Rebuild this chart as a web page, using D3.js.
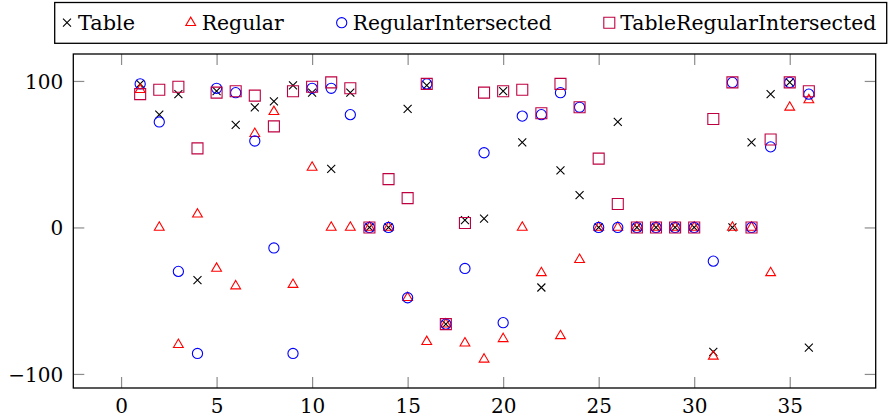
<!DOCTYPE html>
<html>
<head>
<meta charset="utf-8">
<script src="https://cdn.jsdelivr.net/npm/d3@7"></script>
<style>
  body { margin: 0; background: #fff; }
</style>
</head>
<body>
<svg id="svg"></svg>
<script>
// data
const xs = d3.range(1, 37);
const tableVals = [98, 77, 91, -36, 93, 70, 82, 86, 97, 92, 40, 92, 0, 0, 81, 97, -66, 5, 6, 93,
  58, -41, 39, 22, 0, 72, 0, 0, 0, 0, -85, 0, 58, 91, 99, -82];
const regularVals = [94, 0, -80, 9, -28, -40, 64, 79, -39, 41, 0, 0, 0, 0, -48, -78, -66, -79, -90, -76,
  0, -31, -74, -22, 0, 0, 0, 0, 0, 0, -88, 0, 0, -31, 82, 87];
const regIntVals = [98, 72, -30, -86, 95, 92, 59, -14, -86, 95, 95, 77, 0, 0, -48, 98, -66, -28, 51, -65,
  76, 77, 92, 82, 0, 0, 0, 0, 0, 0, -23, 99, 0, 55, 99, 91];
const tableRegIntVals = [91, 94, 96, 54, 92, 93, 90, 69, 93, 96, 99, 95, 0, 33, 20, 98, -66, 3, 92, 93,
  94, 78, 98, 82, 47, 16, 0, 0, 0, 0, 74, 99, 0, 60, 99, 93];
const seriesNames = ["Table", "Regular", "RegularIntersected", "TableRegularIntersected"];
const xTicks = [0, 5, 10, 15, 20, 25, 30, 35];
const yTicks = [-100, 0, 100];

const width = 888, height = 420;
const plot = { left: 73.3, right: 875.7, top: 54, bottom: 388 };
const fontFamily = "'DejaVu Serif', serif";

const svg = d3.select("#svg").attr("width", width).attr("height", height);

const xScale = d3.scaleLinear().domain([-2.5, 39.5]).range([plot.left, plot.right]);
const yScale = d3.scaleLinear().domain([-109.6, 118.4]).range([plot.bottom, plot.top]);

// marker shapes
const markers = {
  Table: { color: "#000", path: "M-4,-4L4,4M-4,4L4,-4" },
  Regular: { color: "#ff0000", path: "M0,-5.6L4.9,2.8L-4.9,2.8Z" },
  RegularIntersected: { color: "#0000ff", path: d3.arc()({ innerRadius: 0, outerRadius: 5.1, startAngle: 0, endAngle: 2 * Math.PI }) },
  TableRegularIntersected: { color: "#bf0040", path: "M-5.5,-5.5H5.5V5.5H-5.5Z" }
};

const seriesData = [tableVals, regularVals, regIntVals, tableRegIntVals];

// AXES
const tickColor = "#8c8c8c";
function styleAxis(g) {
  g.attr("font-family", fontFamily).attr("font-size", 20);
  g.select(".domain").remove();
  g.selectAll(".tick line").attr("stroke", tickColor).attr("stroke-width", 1.2);
  g.selectAll("text").attr("fill", "#000");
}

svg.append("g")
  .attr("transform", `translate(0, ${plot.bottom})`)
  .call(d3.axisBottom(xScale).tickValues(xTicks).tickSizeInner(-11).tickSizeOuter(0))
  .call(styleAxis)
  .selectAll("text").attr("dy", null).attr("y", 25);

svg.append("g")
  .attr("transform", `translate(0, ${plot.top})`)
  .call(d3.axisTop(xScale).tickValues(xTicks).tickSizeInner(-11).tickSizeOuter(0).tickFormat(""))
  .call(styleAxis);

svg.append("g")
  .attr("transform", `translate(${plot.left}, 0)`)
  .call(d3.axisLeft(yScale).tickValues(yTicks).tickSizeInner(-11).tickSizeOuter(0)
    .tickFormat(d => d < 0 ? "\u2212" + Math.abs(d) : d))
  .call(styleAxis)
  .selectAll("text").attr("x", -10).attr("dy", "0.36em");

svg.append("g")
  .attr("transform", `translate(${plot.right}, 0)`)
  .call(d3.axisRight(yScale).tickValues(yTicks).tickSizeInner(-11).tickSizeOuter(0).tickFormat(""))
  .call(styleAxis);

// frame
svg.append("rect")
  .attr("x", plot.left).attr("y", plot.top)
  .attr("width", plot.right - plot.left).attr("height", plot.bottom - plot.top)
  .attr("fill", "none").attr("stroke", "#000").attr("stroke-width", 1.3);

// MARKS
seriesNames.forEach((name, i) => {
  svg.append("g")
    .selectAll("path")
    .data(xs.map((x, j) => ({ x: x, y: seriesData[i][j] })))
    .enter()
    .append("path")
    .attr("transform", d => `translate(${xScale(d.x)}, ${yScale(d.y)})`)
    .attr("d", markers[name].path)
    .attr("fill", "none")
    .attr("stroke", markers[name].color)
    .attr("stroke-width", 1.1);
});

// LEGEND
const legend = svg.append("g").attr("font-family", fontFamily).attr("font-size", 21);
legend.append("rect")
  .attr("x", 54.7).attr("y", 2.5).attr("width", 832).attr("height", 40.8)
  .attr("fill", "#fff").attr("stroke", "#000").attr("stroke-width", 1.3);

const legendX = [67, 190.7, 341.7, 609.3];
const legendTextWidth = [57, 82, 199, 256];
seriesNames.forEach((name, i) => {
  legend.append("path")
    .attr("transform", `translate(${legendX[i]}, 22.7)`)
    .attr("d", markers[name].path)
    .attr("fill", "none")
    .attr("stroke", markers[name].color)
    .attr("stroke-width", 1.1);
  legend.append("text")
    .attr("x", legendX[i] + 11)
    .attr("y", 29.5)
    .attr("textLength", legendTextWidth[i])
    .attr("lengthAdjust", "spacingAndGlyphs")
    .text(name);
});
</script>
</body>
</html>
